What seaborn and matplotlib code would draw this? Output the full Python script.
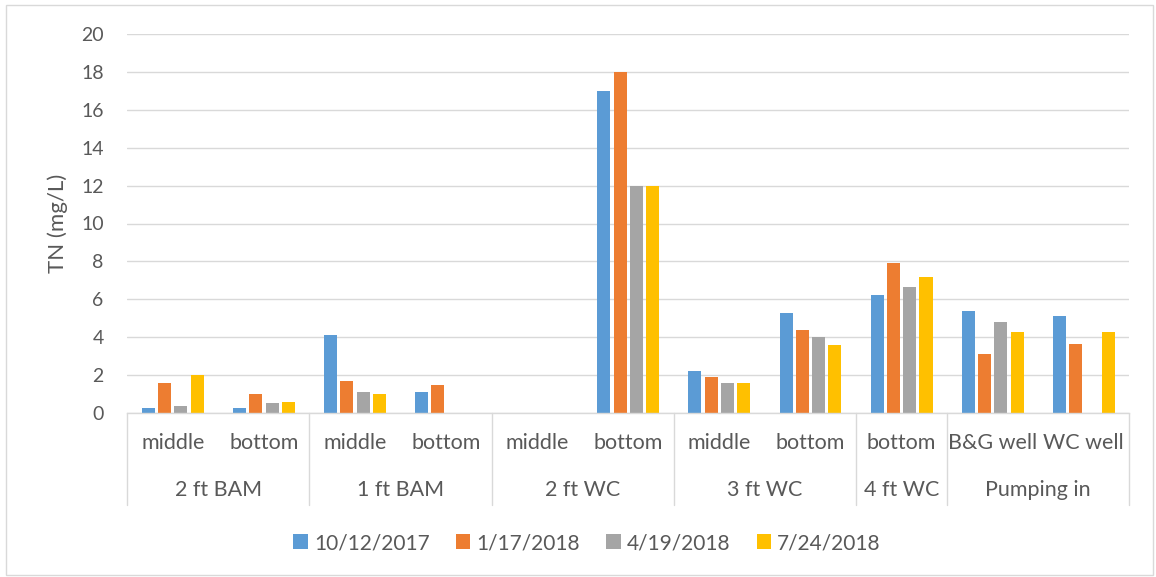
import numpy as np
import pandas as pd
import matplotlib
matplotlib.use("Agg")
import matplotlib.pyplot as plt
from matplotlib.patches import Patch, Rectangle
import seaborn as sns

# Sampling sites: location group and depth within it
groups = ["2 ft BAM", "2 ft BAM", "1 ft BAM", "1 ft BAM", "2 ft WC", "2 ft WC",
          "3 ft WC", "3 ft WC", "4 ft WC", "Pumping in", "Pumping in"]
depths = ["middle", "bottom", "middle", "bottom", "middle", "bottom",
          "middle", "bottom", "bottom", "B&G well", "WC well"]

dates = ["10/12/2017", "1/17/2018", "4/19/2018", "7/24/2018"]

# Total nitrogen (mg/L) per sampling date; NaN = not sampled
tn_oct2017 = [0.25, 0.25, 4.1, 1.1, np.nan, 17.0, 2.2, 5.3, 6.25, 5.4, 5.1]
tn_jan2018 = [1.6, 1.0, 1.7, 1.5, np.nan, 18.0, 1.9, 4.4, 7.9, 3.1, 3.65]
tn_apr2018 = [0.35, 0.55, 1.1, np.nan, np.nan, 12.0, 1.6, 4.0, 6.65, 4.8, np.nan]
tn_jul2018 = [2.0, 0.6, 1.0, np.nan, np.nan, 12.0, 1.6, 3.6, 7.2, 4.25, 4.25]

colors = ["#5B9BD5", "#ED7D31", "#A5A5A5", "#FFC000"]
text_color = "#595959"
grid_color = "#D9D9D9"

sites = [f"{g}|{d}" for g, d in zip(groups, depths)]
rows = []
for date, vals in zip(dates, [tn_oct2017, tn_jan2018, tn_apr2018, tn_jul2018]):
    for site, v in zip(sites, vals):
        rows.append({"site": site, "date": date, "TN": v})
df = pd.DataFrame(rows).dropna()

sns.set_theme(style="white")
plt.rcParams["font.family"] = ["Lato", "DejaVu Sans"]

W, H = 1156, 577
fig = plt.figure(figsize=(W / 100, H / 100), dpi=100)
x0, x1, ytop, ybot = 127.3, 1129.3, 34.0, 413.0
ax = fig.add_axes([x0 / W, 1 - ybot / H, (x1 - x0) / W, (ybot - ytop) / H])

sns.barplot(data=df, x="site", y="TN", hue="date", order=sites, hue_order=dates,
            palette=colors, saturation=1, errorbar=None, width=0.715, gap=0.2,
            linewidth=0, ax=ax, legend=False)

ax.set_ylim(0, 20)
ax.set_xlim(-0.5, len(sites) - 0.5)
ax.set_yticks(np.arange(0, 21, 2))
ax.yaxis.grid(True, color=grid_color, linewidth=1.0)
ax.set_axisbelow(True)
for s in ["top", "right", "left"]:
    ax.spines[s].set_visible(False)
ax.spines["bottom"].set_color(grid_color)
ax.spines["bottom"].set_linewidth(1.0)
ax.tick_params(axis="y", length=0, pad=17, labelsize=14, labelcolor=text_color)
ax.set_xticks([])
ax.set_xlabel("")
ax.set_ylabel("TN (mg/L)", fontsize=16, color=text_color, va="center")
ax.yaxis.set_label_coords((58 - x0) / (x1 - x0), 0.5)

# Two-level category axis drawn below the plot
trans = ax.get_xaxis_transform()
px = 1.0 / (ybot - ytop)  # one pixel in axes-fraction units
for i, d in enumerate(depths):
    ax.text(i, -(443 - ybot) * px, d, transform=trans, ha="center", va="center",
            fontsize=15.5, color=text_color)
bounds = [-0.5]
for i in range(1, len(groups)):
    if groups[i] != groups[i - 1]:
        bounds.append(i - 0.5)
bounds.append(len(groups) - 0.5)
for b in bounds:
    ax.plot([b, b], [0, -(505 - ybot) * px], transform=trans, color=grid_color,
            linewidth=1.0, clip_on=False)
for a, b in zip(bounds[:-1], bounds[1:]):
    g = groups[int(a + 0.5)]
    ax.text((a + b) / 2, -(490 - ybot) * px, g, transform=trans, ha="center",
            va="center", fontsize=15.5, color=text_color)

handles = [Patch(facecolor=c, edgecolor="none", label=d) for c, d in zip(colors, dates)]
fig.legend(handles=handles, loc="center", bbox_to_anchor=(587 / W, 1 - 543 / H),
           ncol=4, frameon=False, fontsize=15, handlelength=0.7, handleheight=0.7,
           handletextpad=0.3, columnspacing=1.25, labelcolor=text_color)

fig.patches.append(Rectangle((6 / W, 2 / H), (1153 - 6) / W, (572.5 - 2) / H,
                             transform=fig.transFigure, fill=False,
                             edgecolor=grid_color, linewidth=1.0))

fig.savefig("out.png", dpi=100, facecolor="white")
